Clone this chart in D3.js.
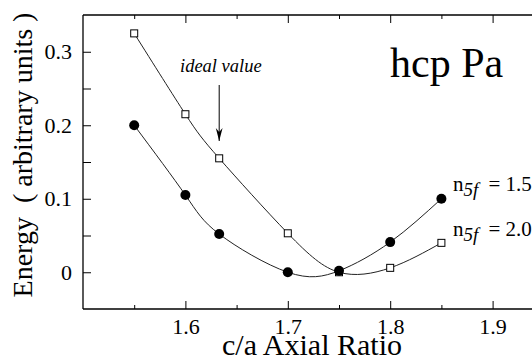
<!DOCTYPE html>
<html>
<head>
<meta charset="utf-8">
<script src="https://cdn.jsdelivr.net/npm/d3@7"></script>
<style>
  body { margin: 0; background: #fff; }
</style>
</head>
<body>
<svg id="chart" width="532" height="360" font-family="Liberation Serif"></svg>
<script>
// c/a ratios used in the calculation (1.633 = ideal value)
const ratios = [1.55, 1.6, 1.633, 1.7, 1.75, 1.8, 1.85];
// energy, n5f = 1.5 (filled circles)
const energy15 = [0.200, 0.105, 0.052, 0.000, 0.002, 0.041, 0.100];
// energy, n5f = 2.0 (open squares)
const energy20 = [0.325, 0.215, 0.155, 0.053, 0.000, 0.006, 0.040];

const xMajor = [1.6, 1.7, 1.8, 1.9];
const xMinor = [1.55, 1.65, 1.75, 1.85, 1.95];
const yMajor = [0, 0.1, 0.2, 0.3];
const yMinor = [0.05, 0.15, 0.25];

const FONT = "Liberation Serif";
const svg = d3.select("#chart");

// plot box: left 83, top 15, bottom 309; right side runs off the picture
const x = d3.scaleLinear().domain([1.5, 2.0]).range([83, 595]);
const y = d3.scaleLinear().domain([-0.05, 0.35]).range([309, 15]);

// frame
svg.append("line").attr("x1", 83).attr("x2", 595).attr("y1", 15).attr("y2", 15)
  .attr("stroke", "#000").attr("stroke-width", 1.3);
svg.append("line").attr("x1", 83).attr("x2", 595).attr("y1", 309).attr("y2", 309)
  .attr("stroke", "#000").attr("stroke-width", 1.3);
svg.append("line").attr("x1", 83).attr("x2", 83).attr("y1", 15).attr("y2", 309)
  .attr("stroke", "#000").attr("stroke-width", 1.3);

// axes with inward ticks
svg.append("g").attr("transform", "translate(0,309)")
  .call(d3.axisBottom(x).tickValues(xMajor).tickSize(-8).tickPadding(9).tickFormat(d3.format(".1f")));
svg.append("g").attr("transform", "translate(0,309)")
  .call(d3.axisBottom(x).tickValues(xMinor).tickSize(-4).tickFormat(""));
svg.append("g").attr("transform", "translate(0,15)")
  .call(d3.axisTop(x).tickValues(xMajor).tickSize(-8).tickFormat(""));
svg.append("g").attr("transform", "translate(0,15)")
  .call(d3.axisTop(x).tickValues(xMinor).tickSize(-4).tickFormat(""));
svg.append("g").attr("transform", "translate(83,0)")
  .call(d3.axisLeft(y).tickValues(yMajor).tickSize(-8).tickPadding(11)
    .tickFormat(d => d === 0 ? "0" : d3.format(".1f")(d)));
svg.append("g").attr("transform", "translate(83,0)")
  .call(d3.axisLeft(y).tickValues(yMinor).tickSize(-8).tickFormat(""));

svg.selectAll(".domain").remove();
svg.selectAll("g").attr("font-family", FONT);
svg.selectAll(".tick line").attr("stroke", "#000").attr("stroke-width", 1);
svg.selectAll(".tick text").attr("font-family", FONT).attr("font-size", 22).attr("fill", "#000");

// curves
const line = d3.line().curve(d3.curveNatural);
[energy15, energy20].forEach(vals => {
  svg.append("path")
    .attr("d", line(ratios.map((r, i) => [x(r), y(vals[i])])))
    .attr("fill", "none").attr("stroke", "#222").attr("stroke-width", 1);
});

// markers
svg.append("g").selectAll("rect").data(ratios).join("rect")
  .attr("x", (d) => x(d) - 3.5)
  .attr("y", (d, i) => y(energy20[i]) - 3.5)
  .attr("width", 7).attr("height", 7)
  .attr("fill", "#fff").attr("stroke", "#000").attr("stroke-width", 1);
svg.append("g").selectAll("circle").data(ratios).join("circle")
  .attr("cx", d => x(d))
  .attr("cy", (d, i) => y(energy15[i]))
  .attr("r", 5).attr("fill", "#000");

// ideal value annotation
svg.append("text").attr("x", 180).attr("y", 72).attr("font-family", FONT)
  .attr("font-size", 18.5).attr("font-style", "italic").text("ideal value");
svg.append("defs").append("marker").attr("id", "arr")
  .attr("viewBox", "0 0 10 10").attr("refX", 10).attr("refY", 5)
  .attr("markerWidth", 13).attr("markerHeight", 13).attr("orient", "auto")
  .attr("markerUnits", "userSpaceOnUse")
  .append("path").attr("d", "M0,2.4 L10,5 L0,7.6 L3,5 Z").attr("fill", "#000");
svg.append("line").attr("x1", x(1.633)).attr("x2", x(1.633)).attr("y1", 85).attr("y2", 141)
  .attr("stroke", "#000").attr("stroke-width", 1).attr("marker-end", "url(#arr)");

// title
svg.append("text").attr("x", 390).attr("y", 77).attr("font-family", FONT)
  .attr("font-size", 42).text("hcp Pa");

// series labels
function seriesLabel(yy, val) {
  const t = svg.append("text").attr("x", 453).attr("y", yy)
    .attr("font-family", FONT).attr("font-size", 21);
  t.append("tspan").text("n");
  t.append("tspan").attr("dy", 5).attr("font-size", 19).attr("font-style", "italic").text("5f");
  t.append("tspan").attr("dy", -5).attr("dx", 5).text(" = " + val);
}
seriesLabel(191, "1.5");
seriesLabel(236, "2.0");

// axis titles
svg.append("text").attr("x", 312).attr("y", 355).attr("text-anchor", "middle")
  .attr("font-family", FONT).attr("font-size", 30).text("c/a Axial Ratio");
svg.append("text").attr("transform", "translate(32,155) rotate(-90)").attr("text-anchor", "middle")
  .attr("font-family", FONT).attr("font-size", 28).attr("xml:space", "preserve")
  .text("Energy  ( arbitrary units )");
</script>
</body>
</html>
